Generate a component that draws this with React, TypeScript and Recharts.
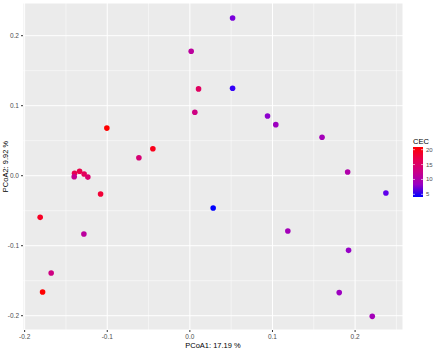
import React from "react";
import {
  ScatterChart,
  Scatter,
  XAxis,
  YAxis,
  CartesianGrid,
  ReferenceLine,
  Cell,
} from "recharts";

// PCoA scores
const pc1 = [
  0.0517, 0.0016, 0.0105, 0.0517, 0.006, 0.094, 0.104, 0.16, -0.1005, -0.0448,
  -0.0617, -0.1396, -0.1335, -0.128, -0.14, -0.1235, 0.191, -0.1081, 0.2373,
  0.0282, -0.1812, 0.1186, -0.1283, 0.1921, -0.1679, -0.1783, 0.1808, 0.2208,
];
const pc2 = [
  0.2253, 0.1777, 0.124, 0.1249, 0.0906, 0.0853, 0.0729, 0.0549, 0.068, 0.0386,
  0.0257, 0.0034, 0.0063, 0.0024, -0.0014, -0.002, 0.0053, -0.0261, -0.0247,
  -0.0461, -0.0595, -0.079, -0.0833, -0.1066, -0.139, -0.1661, -0.167, -0.2009,
];
const cec = [
  6.5, 11, 15.5, 4.5, 13, 7.5, 8.5, 9, 20.9, 20,
  14, 16.5, 17, 16, 12, 14.5, 10, 18.5, 5.5,
  4.1, 19.5, 9, 11, 8, 13, 20.9, 8.5, 9,
];

const xTicks = [-0.2, -0.1, 0, 0.1, 0.2];
const yTicks = [-0.2, -0.1, 0, 0.1, 0.2];
const xMinor = [-0.15, -0.05, 0.05, 0.15, 0.25];
const yMinor = [-0.15, -0.05, 0.05, 0.15];
const legendTicks = [5, 10, 15, 20];

const points = pc1.map((x, i) => ({ x, y: pc2[i], cec: cec[i] }));
const cecMin = Math.min(...cec);
const cecMax = Math.max(...cec);

// blue -> red in Lab space, like scale_colour_gradient
const lin = (c: number) => {
  c /= 255;
  return c <= 0.04045 ? c / 12.92 : Math.pow((c + 0.055) / 1.055, 2.4);
};
const unlin = (c: number) => {
  const v = c <= 0.0031308 ? 12.92 * c : 1.055 * Math.pow(c, 1 / 2.4) - 0.055;
  return Math.round(Math.min(1, Math.max(0, v)) * 255);
};
const W = [0.95047, 1, 1.08883];
const f = (t: number) => (t > 0.008856 ? Math.cbrt(t) : 7.787 * t + 16 / 116);
const finv = (t: number) => (t * t * t > 0.008856 ? t * t * t : (t - 16 / 116) / 7.787);
function toLab([r, g, b]: number[]) {
  const R = lin(r), G = lin(g), B = lin(b);
  const X = (0.4124 * R + 0.3576 * G + 0.1805 * B) / W[0];
  const Y = (0.2126 * R + 0.7152 * G + 0.0722 * B) / W[1];
  const Z = (0.0193 * R + 0.1192 * G + 0.9505 * B) / W[2];
  return [116 * f(Y) - 16, 500 * (f(X) - f(Y)), 200 * (f(Y) - f(Z))];
}
function fromLab([L, a, b]: number[]) {
  const fy = (L + 16) / 116;
  const X = W[0] * finv(a / 500 + fy);
  const Y = W[1] * finv(fy);
  const Z = W[2] * finv(fy - b / 200);
  const R = 3.2406 * X - 1.5372 * Y - 0.4986 * Z;
  const G = -0.9689 * X + 1.8758 * Y + 0.0415 * Z;
  const B = 0.0557 * X - 0.204 * Y + 1.057 * Z;
  return `rgb(${unlin(R)},${unlin(G)},${unlin(B)})`;
}
const labLow = toLab([0, 0, 255]);
const labHigh = toLab([255, 0, 0]);
const cecColor = (v: number) => {
  const t = (v - cecMin) / (cecMax - cecMin);
  return fromLab(labLow.map((l, k) => l + (labHigh[k] - l) * t));
};

const font = "'Liberation Sans', Arial, sans-serif";
const fmt = (v: number) => v.toFixed(1);

const Dot = (props: any) => (
  <circle cx={props.cx} cy={props.cy} r={2.8} fill={props.fill} />
);

function Legend() {
  const top = 147;
  const h = 50;
  const yOf = (v: number) => top + ((cecMax - v) / (cecMax - cecMin)) * h;
  const stops = [0, 0.25, 0.5, 0.75, 1];
  return (
    <svg
      width={40}
      height={80}
      style={{ position: "absolute", left: 405, top: 130 }}
      viewBox="405 130 40 80"
    >
      <defs>
        <linearGradient id="cecbar" x1="0" y1="1" x2="0" y2="0">
          {stops.map((s) => (
            <stop key={s} offset={s} stopColor={cecColor(cecMin + s * (cecMax - cecMin))} />
          ))}
        </linearGradient>
      </defs>
      <text x={413} y={144} fontSize={7.5} fill="#000" fontFamily={font}>
        CEC
      </text>
      <rect x={413} y={top} width={10} height={h} fill="url(#cecbar)" />
      {legendTicks.map((v) => (
        <g key={v}>
          <line x1={413} x2={415} y1={yOf(v)} y2={yOf(v)} stroke="#fff" strokeWidth={0.6} />
          <line x1={421} x2={423} y1={yOf(v)} y2={yOf(v)} stroke="#fff" strokeWidth={0.6} />
          <text x={426} y={yOf(v) + 2} fontSize={6} fill="#4D4D4D" fontFamily={font}>
            {v}
          </text>
        </g>
      ))}
    </svg>
  );
}

export default function App() {
  return (
    <div style={{ position: "absolute", left: 0, top: 0, width: 439, height: 351, background: "#fff" }}>
      <ScatterChart width={439} height={351} margin={{ top: 3, right: 36, bottom: 0, left: 0 }}>
        <CartesianGrid fill="#EBEBEB" stroke="#fff" strokeWidth={1} />
        {xMinor.map((v) => (
          <ReferenceLine key={"x" + v} x={v} stroke="#fff" strokeWidth={0.5} />
        ))}
        {yMinor.map((v) => (
          <ReferenceLine key={"y" + v} y={v} stroke="#fff" strokeWidth={0.5} />
        ))}
        <XAxis
          type="number"
          dataKey="x"
          domain={[-0.202, 0.258]}
          ticks={xTicks}
          tickFormatter={fmt}
          allowDataOverflow
          axisLine={false}
          tickSize={2}
          tickLine={{ stroke: "#333" }}
          tick={{ fontSize: 6.5, fill: "#4D4D4D", fontFamily: font }}
          height={21}
          label={{
            value: "PCoA1:  17.19 %",
            position: "insideBottom",
            offset: 3,
            fontSize: 7.5,
            fill: "#000",
            fontFamily: font,
          }}
        />
        <YAxis
          type="number"
          dataKey="y"
          domain={[-0.2204, 0.2467]}
          ticks={yTicks}
          tickFormatter={fmt}
          allowDataOverflow
          axisLine={false}
          tickSize={2}
          tickLine={{ stroke: "#333" }}
          tick={{ fontSize: 6.5, fill: "#4D4D4D", fontFamily: font }}
          width={23}
          label={{
            value: "PCoA2:  9.92 %",
            angle: -90,
            position: "insideLeft",
            offset: 5,
            style: { textAnchor: "middle" },
            fontSize: 7.5,
            fill: "#000",
            fontFamily: font,
          }}
        />
        <Scatter data={points} isAnimationActive={false} shape={Dot}>
          {points.map((p, i) => (
            <Cell key={i} fill={cecColor(p.cec)} />
          ))}
        </Scatter>
      </ScatterChart>
      <Legend />
    </div>
  );
}
